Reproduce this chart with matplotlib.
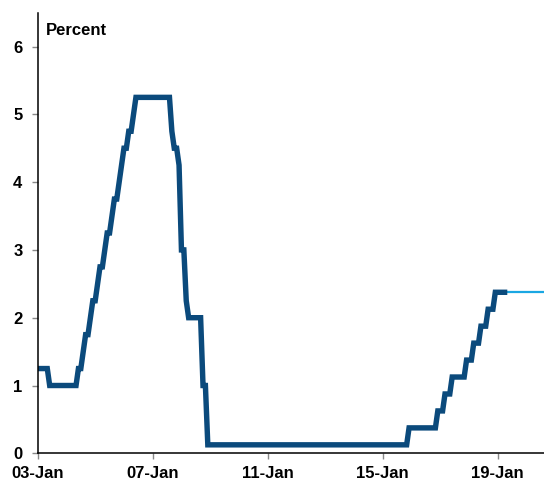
import numpy as np
import matplotlib
matplotlib.use("Agg")
import matplotlib.pyplot as plt

# monthly policy rate, percent (midpoint of range after Dec 2008), Jan 2003 - May 2019
rate = [
    1.25, 1.25, 1.25, 1.25, 1.25, 1.0, 1.0, 1.0, 1.0, 1.0, 1.0, 1.0,            # 2003
    1.0, 1.0, 1.0, 1.0, 1.0, 1.25, 1.25, 1.5, 1.75, 1.75, 2.0, 2.25,            # 2004
    2.25, 2.5, 2.75, 2.75, 3.0, 3.25, 3.25, 3.5, 3.75, 3.75, 4.0, 4.25,         # 2005
    4.5, 4.5, 4.75, 4.75, 5.0, 5.25, 5.25, 5.25, 5.25, 5.25, 5.25, 5.25,        # 2006
    5.25, 5.25, 5.25, 5.25, 5.25, 5.25, 5.25, 5.25, 4.75, 4.5, 4.5, 4.25,       # 2007
    3.0, 3.0, 2.25, 2.0, 2.0, 2.0, 2.0, 2.0, 2.0, 1.0, 1.0, 0.125,              # 2008
] + [0.125] * 12 * 6 + [                                                        # 2009-2014
    0.125, 0.125, 0.125, 0.125, 0.125, 0.125, 0.125, 0.125, 0.125, 0.125, 0.125, 0.375,  # 2015
    0.375, 0.375, 0.375, 0.375, 0.375, 0.375, 0.375, 0.375, 0.375, 0.375, 0.375, 0.625,  # 2016
    0.625, 0.625, 0.875, 0.875, 0.875, 1.125, 1.125, 1.125, 1.125, 1.125, 1.125, 1.375,  # 2017
    1.375, 1.375, 1.625, 1.625, 1.625, 1.875, 1.875, 1.875, 2.125, 2.125, 2.125, 2.375,  # 2018
    2.375, 2.375, 2.375, 2.375, 2.375,                                          # 2019
]
months = 2003 + np.arange(len(rate)) / 12

# projection (light blue)
proj_x = [months[-1], 2020.8]
proj_y = [2.375, 2.375]

tick_years = [2003, 2007, 2011, 2015, 2019]
tick_labels = ["03-Jan", "07-Jan", "11-Jan", "15-Jan", "19-Jan"]

plt.rcParams["font.family"] = ["Liberation Sans", "DejaVu Sans"]

fig = plt.figure(figsize=(5.44, 4.8), dpi=100)
ax = fig.add_axes([37.7 / 544, 26.7 / 480, 510 / 544, 440 / 480])

ax.plot(proj_x, proj_y, color="#1AA7E3", lw=1.6, solid_capstyle="butt")
ax.plot(months, rate, color="#0B4A7C", lw=3.9, solid_joinstyle="miter", solid_capstyle="butt")

ax.set_xlim(2003, 2003 + 510 / 28.75)
ax.set_ylim(0, 6.49)
ax.set_yticks(range(0, 7))
ax.set_xticks(tick_years)
ax.set_xticklabels(tick_labels)

for s in ["top", "right"]:
    ax.spines[s].set_visible(False)
for s in ["left", "bottom"]:
    ax.spines[s].set_linewidth(1.1)
    ax.spines[s].set_color("black")

ax.tick_params(axis="both", direction="out", length=4, width=1, color="#888888",
               labelsize=12)
ax.tick_params(axis="y", pad=7)
ax.tick_params(axis="x", pad=5)
for lab in ax.get_xticklabels() + ax.get_yticklabels():
    lab.set_fontweight("bold")

fig.text(45.7 / 544, 1 - 35 / 480, "Percent", fontsize=12, fontweight="bold",
         va="baseline", ha="left")

fig.savefig("out.png", dpi=100)
